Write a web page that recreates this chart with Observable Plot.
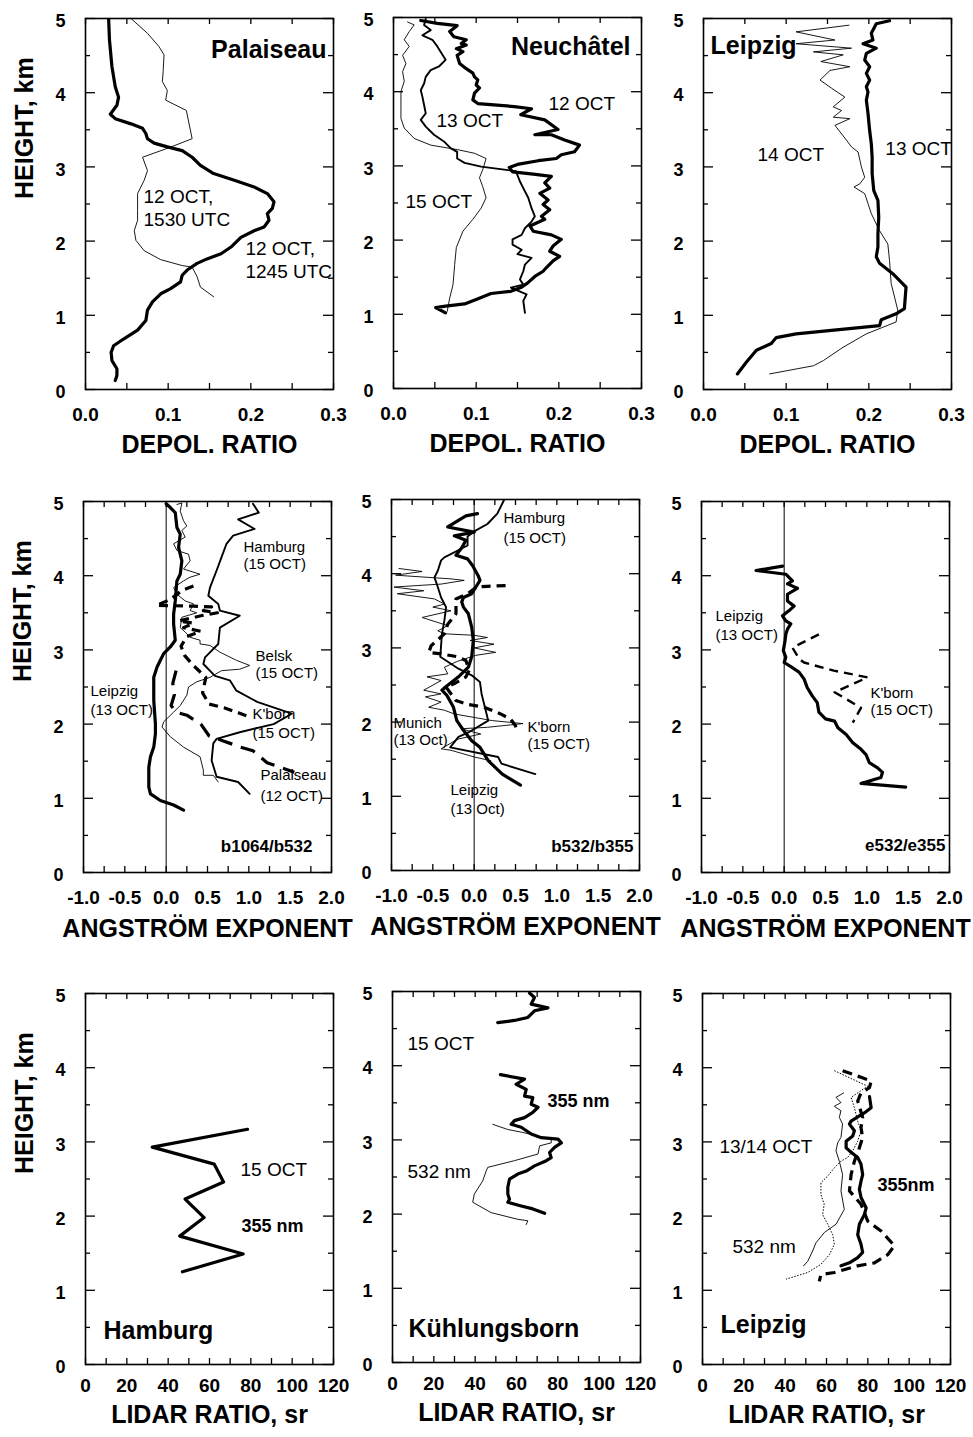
<!DOCTYPE html>
<html><head><meta charset="utf-8">
<script src="https://cdn.jsdelivr.net/npm/d3@7"></script>
<script src="https://cdn.jsdelivr.net/npm/@observablehq/plot@0.6"></script>
<style>
html,body{margin:0;padding:0;background:#fff;}
#chart{position:relative;width:973px;height:1437px;overflow:hidden;background:#fff;}
#chart svg{position:absolute;}
</style></head><body><div id="chart"></div>
<script>
// ---------- ticks / labels ----------
const heightTicks = [0, 0.5, 1, 1.5, 2, 2.5, 3, 3.5, 4, 4.5, 5];
const heightLabels = [0, 1, 2, 3, 4, 5];
const depolTicks = [0, 0.05, 0.1, 0.15, 0.2, 0.25, 0.3];
const depolLabels = [0, 0.1, 0.2, 0.3];
const angTicks = [-1, -0.75, -0.5, -0.25, 0, 0.25, 0.5, 0.75, 1, 1.25, 1.5, 1.75, 2];
const angLabels = [-1, -0.5, 0, 0.5, 1, 1.5, 2];
const lidarTicks = [0, 10, 20, 30, 40, 50, 60, 70, 80, 90, 100, 110, 120];
const lidarLabels = [0, 20, 40, 60, 80, 100, 120];

// ---------- Row 1: depolarization ratio [ratio, km] ----------
const palaiseau1245 = [[0.028,4.99],[0.029,4.71],[0.032,4.35],[0.036,4.08],[0.040,3.94],[0.038,3.83],[0.032,3.74],[0.030,3.71],[0.036,3.65],[0.055,3.58],[0.069,3.52],[0.073,3.45],[0.075,3.38],[0.083,3.32],[0.099,3.27],[0.117,3.22],[0.129,3.13],[0.139,3.02],[0.155,2.91],[0.180,2.82],[0.204,2.73],[0.220,2.64],[0.228,2.53],[0.226,2.44],[0.220,2.37],[0.222,2.28],[0.216,2.19],[0.204,2.14],[0.188,2.05],[0.176,1.92],[0.164,1.83],[0.147,1.76],[0.135,1.70],[0.123,1.61],[0.117,1.54],[0.115,1.45],[0.103,1.36],[0.091,1.29],[0.081,1.18],[0.075,1.07],[0.073,0.93],[0.063,0.80],[0.046,0.68],[0.034,0.59],[0.031,0.50],[0.032,0.39],[0.038,0.28],[0.038,0.19],[0.036,0.12]];
const palaiseau1530 = [[0.055,5.0],[0.075,4.80],[0.089,4.62],[0.095,4.51],[0.094,4.30],[0.093,4.15],[0.099,4.03],[0.097,3.90],[0.122,3.76],[0.129,3.38],[0.099,3.25],[0.069,3.13],[0.075,2.95],[0.071,2.82],[0.063,2.64],[0.063,2.41],[0.063,2.28],[0.059,2.14],[0.061,2.01],[0.071,1.87],[0.091,1.75],[0.117,1.67],[0.129,1.65],[0.135,1.52],[0.139,1.38],[0.155,1.25]];
const neuchatel12 = [[0.033,4.96],[0.053,4.92],[0.077,4.89],[0.068,4.81],[0.073,4.74],[0.088,4.70],[0.082,4.65],[0.088,4.63],[0.076,4.58],[0.084,4.54],[0.077,4.49],[0.080,4.38],[0.088,4.31],[0.096,4.25],[0.098,4.20],[0.102,4.16],[0.100,4.09],[0.104,4.05],[0.098,3.98],[0.096,3.89],[0.102,3.84],[0.146,3.80],[0.167,3.77],[0.154,3.69],[0.183,3.62],[0.199,3.49],[0.171,3.42],[0.191,3.42],[0.207,3.35],[0.225,3.28],[0.219,3.19],[0.203,3.15],[0.197,3.10],[0.175,3.07],[0.150,3.02],[0.140,2.98],[0.144,2.92],[0.169,2.89],[0.191,2.86],[0.183,2.77],[0.189,2.70],[0.177,2.63],[0.187,2.54],[0.181,2.48],[0.189,2.41],[0.179,2.32],[0.183,2.28],[0.173,2.23],[0.165,2.19],[0.169,2.12],[0.191,2.07],[0.203,2.01],[0.193,1.92],[0.189,1.85],[0.201,1.78],[0.193,1.72],[0.185,1.63],[0.181,1.58],[0.171,1.51],[0.162,1.42],[0.154,1.36],[0.142,1.31],[0.118,1.28],[0.100,1.20],[0.086,1.14],[0.063,1.11],[0.051,1.09],[0.063,1.02]];
const neuchatel13 = [[0.039,4.98],[0.037,4.90],[0.045,4.83],[0.035,4.76],[0.047,4.70],[0.053,4.61],[0.063,4.43],[0.055,4.34],[0.045,4.29],[0.039,4.20],[0.037,4.11],[0.033,4.02],[0.035,3.93],[0.037,3.82],[0.039,3.71],[0.033,3.62],[0.039,3.53],[0.049,3.42],[0.061,3.33],[0.069,3.24],[0.077,3.19],[0.077,3.10],[0.086,3.04],[0.106,2.99],[0.134,2.95],[0.148,2.93],[0.153,2.79],[0.157,2.70],[0.163,2.57],[0.167,2.43],[0.171,2.32],[0.167,2.25],[0.159,2.16],[0.155,2.07],[0.144,2.01],[0.144,1.94],[0.155,1.87],[0.150,1.81],[0.167,1.76],[0.159,1.67],[0.157,1.58],[0.153,1.47],[0.157,1.40],[0.142,1.36],[0.161,1.27],[0.157,1.18],[0.159,1.02]];
const neuchatel15 = [[0.017,4.94],[0.025,4.90],[0.019,4.81],[0.013,4.70],[0.019,4.61],[0.011,4.49],[0.015,4.38],[0.011,4.27],[0.013,4.14],[0.009,4.00],[0.009,3.78],[0.009,3.64],[0.013,3.51],[0.025,3.37],[0.045,3.28],[0.077,3.22],[0.098,3.17],[0.112,3.10],[0.108,2.95],[0.104,2.84],[0.108,2.72],[0.112,2.57],[0.106,2.43],[0.096,2.28],[0.084,2.12],[0.076,1.90],[0.074,1.67],[0.072,1.40],[0.068,1.22],[0.065,1.04]];
const leipzigDepol13 = [[0.225,4.97],[0.209,4.93],[0.203,4.80],[0.205,4.71],[0.193,4.66],[0.209,4.60],[0.197,4.53],[0.195,4.44],[0.201,4.35],[0.197,4.26],[0.201,4.17],[0.197,4.08],[0.199,4.01],[0.197,3.90],[0.199,3.72],[0.201,3.49],[0.203,3.31],[0.204,3.13],[0.204,2.91],[0.206,2.68],[0.211,2.55],[0.212,2.32],[0.211,2.10],[0.211,1.92],[0.209,1.79],[0.213,1.70],[0.229,1.56],[0.245,1.38],[0.243,1.09],[0.233,1.02],[0.215,0.94],[0.213,0.86],[0.112,0.75],[0.088,0.70],[0.082,0.62],[0.064,0.53],[0.052,0.37],[0.041,0.21]];
const leipzigDepol14 = [[0.176,4.91],[0.112,4.82],[0.159,4.71],[0.112,4.66],[0.179,4.60],[0.133,4.55],[0.169,4.51],[0.142,4.42],[0.177,4.35],[0.153,4.30],[0.141,4.17],[0.155,4.06],[0.171,3.94],[0.157,3.81],[0.167,3.76],[0.157,3.67],[0.177,3.65],[0.159,3.56],[0.173,3.36],[0.179,3.27],[0.187,3.20],[0.191,3.00],[0.195,2.86],[0.189,2.77],[0.182,2.73],[0.195,2.64],[0.203,2.37],[0.213,2.14],[0.223,1.96],[0.225,1.74],[0.227,1.43],[0.235,1.07],[0.233,0.91],[0.197,0.75],[0.169,0.57],[0.145,0.39],[0.133,0.32],[0.080,0.21]];

// ---------- Row 2: Angstrom exponent [exponent, km] ----------
const leipzigB1064 = [[0.0,4.97],[0.03,4.94],[0.11,4.85],[0.13,4.65],[0.17,4.56],[0.15,4.38],[0.19,4.20],[0.17,4.02],[0.13,3.93],[0.11,3.66],[0.09,3.48],[0.09,3.35],[0.11,3.13],[0.05,3.04],[-0.03,2.95],[-0.07,2.86],[-0.11,2.77],[-0.15,2.63],[-0.15,2.32],[-0.13,2.0],[-0.13,1.87],[-0.15,1.69],[-0.19,1.56],[-0.21,1.42],[-0.21,1.15],[-0.19,1.06],[-0.07,0.97],[0.09,0.91],[0.21,0.84]];
const hamburgB1064 = [[1.05,4.97],[1.12,4.85],[0.87,4.76],[1.07,4.63],[0.81,4.54],[0.73,4.43],[0.67,4.25],[0.61,4.07],[0.53,3.84],[0.51,3.73],[0.63,3.62],[0.65,3.53],[0.89,3.46],[0.65,3.30],[0.63,3.08],[0.47,2.90],[0.45,2.81],[0.59,2.65],[0.77,2.59],[0.85,2.45],[1.10,2.30],[1.52,2.14],[1.30,2.00],[0.89,1.89],[0.61,1.80],[0.57,1.74],[0.55,1.51],[0.61,1.29],[0.87,1.22],[1.01,1.06]];
const belskB1064 = [[0.13,4.96],[0.19,4.98],[0.17,4.87],[0.21,4.74],[0.25,4.67],[0.19,4.61],[0.23,4.52],[0.09,4.43],[0.13,4.34],[0.27,4.29],[0.29,4.20],[0.21,4.09],[0.41,4.02],[0.29,3.98],[0.21,3.93],[0.09,3.84],[0.13,3.75],[0.23,3.66],[0.33,3.62],[0.29,3.53],[0.37,3.50],[0.19,3.44],[0.17,3.30],[0.23,3.24],[0.29,3.17],[0.41,3.13],[0.41,3.08],[0.53,3.06],[0.65,2.97],[0.85,2.86],[1.01,2.79],[0.89,2.74],[0.67,2.72],[0.53,2.63],[0.37,2.57],[0.27,2.50],[0.25,2.39],[0.17,2.25],[0.09,2.16],[-0.03,2.03],[-0.05,1.96],[0.05,1.83],[0.21,1.69],[0.41,1.56],[0.45,1.38],[0.45,1.31],[0.57,1.31],[0.63,1.22]];
const kbornB1064 = [[0.33,3.86],[0.19,3.80],[0.05,3.68],[-0.12,3.60],[0.33,3.59],[0.55,3.58],[0.45,3.53],[0.62,3.50],[0.42,3.46],[0.15,3.39],[0.33,3.36],[0.21,3.30],[0.42,3.25],[0.25,3.18],[0.18,3.05],[0.22,2.93],[0.32,2.80],[0.48,2.63],[0.44,2.42],[0.52,2.27],[0.70,2.22],[0.88,2.15],[1.02,2.09]];
const palaiseauB1064 = [[0.12,2.72],[0.08,2.55],[0.10,2.40],[0.06,2.25],[0.12,2.16],[0.25,2.12],[0.42,2.00],[0.52,1.84],[0.70,1.77],[0.90,1.69],[1.05,1.64],[1.22,1.48],[1.38,1.42],[1.55,1.35]];
const leipzigB532 = [[0.04,4.81],[-0.10,4.78],[-0.32,4.63],[0.0,4.56],[-0.24,4.51],[-0.10,4.45],[-0.15,4.35],[-0.22,4.25],[-0.08,4.20],[-0.02,4.11],[0.05,3.97],[0.07,3.91],[-0.03,3.73],[-0.13,3.68],[-0.15,3.62],[-0.13,3.55],[-0.07,3.46],[-0.03,3.28],[-0.01,3.10],[-0.03,2.88],[-0.07,2.74],[-0.19,2.61],[-0.35,2.47],[-0.39,2.43],[-0.33,2.36],[-0.25,2.20],[-0.21,2.02],[-0.13,1.89],[-0.03,1.75],[0.07,1.66],[0.17,1.48],[0.34,1.30],[0.56,1.15]];
const hamburgB532 = [[0.36,4.99],[0.28,4.81],[0.16,4.67],[0.0,4.57],[-0.08,4.50],[-0.08,4.38],[-0.36,4.22],[-0.40,4.18],[-0.44,4.04],[-0.48,3.95],[-0.44,3.82],[-0.40,3.68],[-0.34,3.55],[-0.36,3.37],[-0.39,3.19],[-0.41,2.88],[-0.19,2.72],[-0.03,2.63],[0.07,2.54],[0.09,2.38],[0.13,2.20],[0.17,2.02],[-0.07,1.86],[-0.19,1.80],[-0.29,1.66],[0.29,1.53],[0.33,1.44],[0.74,1.30]];
const munichB532 = [[-0.91,4.07],[-0.63,4.03],[-0.95,3.98],[-0.28,3.93],[-0.12,3.91],[-0.40,3.86],[-0.69,3.84],[-0.97,3.82],[-0.61,3.77],[-0.93,3.73],[-0.48,3.66],[-0.36,3.59],[-0.50,3.55],[-0.28,3.50],[-0.63,3.41],[-0.46,3.35],[-0.32,3.30],[-0.44,3.23],[-0.36,3.19],[0.0,3.17],[0.16,3.14],[-0.05,3.10],[0.24,3.05],[0.0,3.0],[0.26,2.94],[0.02,2.90],[-0.20,2.82],[-0.36,2.74],[-0.32,2.65],[-0.57,2.61],[-0.40,2.56],[-0.61,2.43],[-0.40,2.38],[-0.59,2.34],[-0.40,2.27],[-0.55,2.20],[-0.36,2.16],[-0.24,2.11],[0.22,2.02],[0.59,1.98],[0.16,1.93],[-0.16,1.91],[0.08,1.84],[-0.20,1.77],[-0.40,1.64],[-0.28,1.62],[0.0,1.53],[0.20,1.48]];
const kbornB532 = [[0.38,3.84],[0.16,3.83],[0.03,3.82],[-0.08,3.73],[-0.22,3.66],[-0.22,3.46],[-0.32,3.32],[-0.36,3.19],[-0.52,3.03],[-0.55,2.94],[-0.40,2.92],[-0.20,2.88],[-0.10,2.83],[-0.06,2.70],[-0.10,2.61],[-0.24,2.52],[-0.34,2.47],[-0.22,2.29],[-0.08,2.24],[0.12,2.20],[0.32,2.11],[0.44,2.04],[0.50,1.95],[0.52,1.86]];
const leipzigE532 = [[-0.02,4.13],[-0.34,4.07],[0.02,4.02],[0.10,3.93],[0.04,3.89],[0.16,3.83],[0.04,3.75],[0.04,3.66],[0.12,3.59],[0.06,3.53],[-0.02,3.46],[0.02,3.39],[0.08,3.35],[0.04,3.28],[0.02,3.21],[0.01,3.12],[-0.01,2.99],[0.02,2.90],[0.0,2.83],[0.10,2.76],[0.18,2.70],[0.24,2.61],[0.28,2.49],[0.34,2.38],[0.40,2.29],[0.42,2.16],[0.50,2.07],[0.61,2.04],[0.65,1.95],[0.75,1.86],[0.83,1.75],[0.93,1.66],[0.99,1.59],[1.03,1.48],[1.13,1.41],[1.19,1.35],[1.17,1.28],[0.93,1.20],[1.47,1.15]];
const kbornE532 = [[0.42,3.21],[0.10,3.03],[0.18,2.88],[0.24,2.83],[0.60,2.72],[1.01,2.63],[0.61,2.43],[0.93,2.22],[0.83,2.02]];

// ---------- Row 3: lidar ratio [sr, km] ----------
const hamburgLR355 = [[78.4,3.17],[32.3,2.93],[62.3,2.70],[66.8,2.46],[48.2,2.23],[57.4,1.98],[45.6,1.73],[76.3,1.49],[46.9,1.25]];
const kbornLR355Upper = [[66.3,4.98],[68.7,4.92],[67.1,4.83],[75.2,4.78],[68.7,4.74],[65.5,4.65],[59.0,4.61],[50.9,4.58]];
const kbornLR355Lower = [[52.2,3.88],[63.9,3.82],[59.8,3.75],[64.7,3.68],[63.9,3.59],[67.9,3.57],[67.1,3.48],[70.4,3.44],[67.9,3.37],[63.9,3.30],[59.0,3.26],[57.4,3.21],[62.3,3.17],[67.1,3.08],[72.0,3.03],[80.1,3.01],[81.7,2.96],[78.4,2.90],[76.0,2.83],[76.8,2.76],[74.4,2.72],[68.7,2.65],[64.7,2.58],[60.6,2.54],[56.6,2.47],[55.8,2.36],[55.8,2.27],[56.6,2.20],[55.8,2.16],[62.3,2.11],[67.9,2.07],[73.6,2.01]];
const kbornLR532 = [[48.5,3.21],[55.8,3.14],[63.1,3.10],[70.4,3.05],[76.8,3.01],[76.8,2.96],[71.2,2.92],[70.4,2.81],[59.0,2.72],[46.1,2.63],[45.3,2.58],[43.7,2.45],[39.6,2.27],[38.8,2.16],[47.7,2.02],[60.6,1.93],[65.5,1.91],[64.7,1.86]];
const leipzigLR355a = [[80.8,3.61],[81.6,3.46],[78.3,3.39],[75.9,3.35],[71.9,3.28],[71.1,3.24],[73.5,3.15],[72.7,3.08],[69.5,3.01],[69.5,2.92],[71.9,2.86],[75.1,2.79],[76.7,2.70],[77.5,2.56],[76.7,2.47],[75.9,2.36],[76.7,2.25],[79.2,2.11],[78.3,2.02],[75.9,1.89],[75.1,1.75],[76.7,1.62],[77.5,1.51],[75.1,1.44],[71.1,1.37],[67.0,1.33]];
const leipzigLR355b = [[67.8,3.96],[76.7,3.87],[81.6,3.82],[80.8,3.73],[76.7,3.66],[75.1,3.55],[77.5,3.33],[76.7,3.19],[77.5,3.06],[75.9,2.92],[73.5,2.74],[71.9,2.56],[71.1,2.34],[76.7,2.16],[80.0,1.93],[86.4,1.80],[92.9,1.60],[89.6,1.48],[83.2,1.37],[75.1,1.33],[63.8,1.24],[57.3,1.21],[56.5,1.12]];
const leipzigLR532a = [[68.3,3.66],[64.6,3.60],[67.0,3.53],[63.8,3.48],[67.0,3.42],[66.2,3.33],[67.8,3.24],[67.0,3.06],[65.4,2.99],[64.6,2.88],[66.2,2.74],[67.8,2.56],[67.0,2.34],[68.6,2.09],[64.6,1.89],[59.0,1.78],[54.9,1.64],[53.3,1.53],[50.9,1.39],[48.9,1.33]];
const leipzigLR532b = [[63.8,3.96],[79.9,3.75],[71.9,3.60],[73.5,3.46],[75.1,3.28],[76.7,3.15],[75.1,3.01],[72.7,2.88],[70.2,2.79],[67.0,2.74],[63.8,2.65],[60.6,2.54],[57.3,2.45],[57.3,2.29],[58.9,2.16],[58.1,2.02],[60.6,1.89],[63.0,1.75],[63.8,1.62],[61.4,1.48],[57.3,1.35],[50.9,1.24],[40.4,1.15]];

// ---------- drawing ----------
const FONT = "'Liberation Sans', Arial, Helvetica, sans-serif";
const W = 248, H = 371, ML = 90, MR = 30, MT = 20, MB = 80;
const THICK = 3.2, MED = 1.9, THIN = 0.9;
const chart = document.getElementById("chart");

function panel(cfg) {
  const [x0, x1] = cfg.xDomain;
  const xPx = (x1 - x0) / W, yPx = 5 / H;
  const marks = [];
  if (cfg.zeroLine) marks.push(Plot.ruleX([0], {stroke: "black", strokeWidth: 1}));
  // inward tick marks on all four sides
  const ylen = d => (Number.isInteger(d) ? 10 : 5) * xPx;
  marks.push(Plot.ruleY(heightTicks, {y: d => d, x1: x0, x2: d => x0 + ylen(d), stroke: "black", strokeWidth: 1.3}));
  marks.push(Plot.ruleY(heightTicks, {y: d => d, x1: d => x1 - ylen(d), x2: x1, stroke: "black", strokeWidth: 1.3}));
  marks.push(Plot.ruleX(cfg.xTicks, {x: d => d, y1: 0, y2: 6 * yPx, stroke: "black", strokeWidth: 1.3}));
  marks.push(Plot.ruleX(cfg.xTicks, {x: d => d, y1: 5 - 6 * yPx, y2: 5, stroke: "black", strokeWidth: 1.3}));
  marks.push(Plot.frame({stroke: "black", strokeWidth: 1.6}));
  for (const s of cfg.series) {
    marks.push(Plot.line(s.data, {x: d => d[0], y: d => d[1], stroke: "black", strokeWidth: s.w,
      strokeDasharray: s.dash, strokeLinejoin: "round", strokeLinecap: s.dash ? "butt" : "round"}));
  }
  for (const l of cfg.labels) {
    marks.push(Plot.text([l], {x: "x", y: "y", text: "t", textAnchor: l.anchor || "start", lineAnchor: "bottom",
      fontSize: l.size, fontWeight: l.bold ? "bold" : "normal", fill: "black"}));
  }
  marks.push(Plot.axisX({ticks: cfg.xLabels, anchor: "bottom", tickSize: 0, tickPadding: cfg.xPad,
    tickFormat: cfg.xFmt, fontSize: 19, fontWeight: "bold", label: null}));
  marks.push(Plot.axisY({ticks: heightLabels, anchor: "left", tickSize: 0, tickPadding: 20,
    tickFormat: d => String(d), fontSize: 18, fontWeight: "bold", dy: 3, label: null}));
  marks.push(Plot.text([cfg.xTitle], {frameAnchor: "bottom", text: d => d, lineAnchor: "bottom",
    dy: cfg.titleDy, fontSize: 25, fontWeight: "bold"}));
  if (cfg.yTitle) marks.push(Plot.text(["HEIGHT, km"], {frameAnchor: "left", text: d => d, rotate: -90,
    dx: -61, dy: -5, fontSize: 25, fontWeight: "bold"}));
  const svg = Plot.plot({
    width: ML + W + MR, height: MT + H + MB,
    marginLeft: ML, marginRight: MR, marginTop: MT, marginBottom: MB,
    x: {domain: cfg.xDomain}, y: {domain: [0, 5]},
    style: {fontFamily: FONT, fontSize: "18px", fontWeight: "bold", background: "none", overflow: "visible", color: "black"},
    marks
  });
  svg.style.left = (cfg.left - ML) + "px";
  svg.style.top = (cfg.top - MT) + "px";
  chart.appendChild(svg);
}

const depol = {xDomain: [0, 0.3], xTicks: depolTicks, xLabels: depolLabels, xFmt: d => d.toFixed(1), xTitle: "DEPOL. RATIO", xPad: 18, titleDy: 63};
const ang = {xDomain: [-1, 2], xTicks: angTicks, xLabels: angLabels, xFmt: d => d.toFixed(1), xTitle: "ANGSTRÖM EXPONENT", xPad: 18, titleDy: 64, zeroLine: true};
const lidar = {xDomain: [0, 120], xTicks: lidarTicks, xLabels: lidarLabels, xFmt: d => String(d), xTitle: "LIDAR RATIO, sr", xPad: 14, titleDy: 58};

const R = 19, S = 15, B = 25;
panel({...depol, left: 85, top: 18, yTitle: true,
  series: [{data: palaiseau1530, w: THIN}, {data: palaiseau1245, w: THICK}],
  labels: [
    {x: 0.2915, y: 4.461, t: "Palaiseau", size: B, bold: true, anchor: "end"},
    {x: 0.0702, y: 2.520, t: "12 OCT,", size: R}, {x: 0.0702, y: 2.210, t: "1530 UTC", size: R},
    {x: 0.1935, y: 1.806, t: "12 OCT,", size: R}, {x: 0.1935, y: 1.509, t: "1245 UTC", size: R}]});
panel({...depol, left: 393, top: 17,
  series: [{data: neuchatel15, w: THIN}, {data: neuchatel13, w: MED}, {data: neuchatel12, w: THICK}],
  labels: [
    {x: 0.2867, y: 4.488, t: "Neuchâtel", size: B, bold: true, anchor: "end"},
    {x: 0.1875, y: 3.747, t: "12 OCT", size: R}, {x: 0.052, y: 3.518, t: "13 OCT", size: R},
    {x: 0.0145, y: 2.439, t: "15 OCT", size: R}]});
panel({...depol, left: 703, top: 18,
  series: [{data: leipzigDepol14, w: THIN}, {data: leipzigDepol13, w: THICK}],
  labels: [
    {x: 0.0085, y: 4.528, t: "Leipzig", size: B, bold: true},
    {x: 0.0653, y: 3.086, t: "14 OCT", size: R}, {x: 0.220, y: 3.154, t: "13 OCT", size: R}]});

panel({...ang, left: 83, top: 501, yTitle: true,
  series: [{data: belskB1064, w: THIN}, {data: hamburgB1064, w: MED}, {data: leipzigB1064, w: THICK},
    {data: kbornB1064, w: THICK, dash: "9,6"}, {data: palaiseauB1064, w: THICK, dash: "15,9"}],
  labels: [
    {x: 0.935, y: 4.313, t: "Hamburg", size: S}, {x: 0.935, y: 4.084, t: "(15 OCT)", size: S},
    {x: 1.081, y: 2.857, t: "Belsk", size: S}, {x: 1.081, y: 2.615, t: "(15 OCT)", size: S},
    {x: -0.915, y: 2.372, t: "Leipzig", size: S}, {x: -0.915, y: 2.116, t: "(13 OCT)", size: S},
    {x: 1.044, y: 2.075, t: "K'born", size: S}, {x: 1.044, y: 1.819, t: "(15 OCT)", size: S},
    {x: 1.141, y: 1.240, t: "Palaiseau", size: S}, {x: 1.141, y: 0.970, t: "(12 OCT)", size: S},
    {x: 1.77, y: 0.270, t: "b1064/b532", size: 17, bold: true, anchor: "end"}]});
panel({...ang, left: 391, top: 499,
  series: [{data: munichB532, w: THIN}, {data: hamburgB532, w: MED}, {data: leipzigB532, w: THICK},
    {data: kbornB532, w: THICK, dash: "9,6"}],
  labels: [
    {x: 0.355, y: 4.677, t: "Hamburg", size: S}, {x: 0.355, y: 4.420, t: "(15 OCT)", size: S},
    {x: -0.976, y: 1.927, t: "Munich", size: S}, {x: -0.976, y: 1.685, t: "(13 Oct)", size: S},
    {x: 0.645, y: 1.873, t: "K'born", size: S}, {x: 0.645, y: 1.644, t: "(15 OCT)", size: S},
    {x: -0.286, y: 1.011, t: "Leipzig", size: S}, {x: -0.286, y: 0.768, t: "(13 Oct)", size: S},
    {x: 1.927, y: 0.243, t: "b532/b355", size: 17, bold: true, anchor: "end"}]});
panel({...ang, left: 701, top: 501,
  series: [{data: leipzigE532, w: THICK}, {data: kbornE532, w: 2.4, dash: "9,6"}],
  labels: [
    {x: -0.831, y: 3.396, t: "Leipzig", size: S}, {x: -0.831, y: 3.127, t: "(13 OCT)", size: S},
    {x: 1.044, y: 2.358, t: "K'born", size: S}, {x: 1.044, y: 2.116, t: "(15 OCT)", size: S},
    {x: 1.951, y: 0.296, t: "e532/e355", size: 17, bold: true, anchor: "end"}]});

panel({...lidar, left: 85, top: 993, yTitle: true,
  series: [{data: hamburgLR355, w: THICK}],
  labels: [
    {x: 75.0, y: 2.547, t: "15 OCT", size: R}, {x: 75.5, y: 1.779, t: "355 nm", size: 18, bold: true},
    {x: 8.7, y: 0.350, t: "Hamburg", size: B, bold: true}]});
panel({...lidar, left: 392, top: 991,
  series: [{data: kbornLR532, w: THIN}, {data: kbornLR355Upper, w: THICK}, {data: kbornLR355Lower, w: THICK}],
  labels: [
    {x: 7.26, y: 4.205, t: "15 OCT", size: R}, {x: 75.0, y: 3.437, t: "355 nm", size: 18, bold: true},
    {x: 7.26, y: 2.493, t: "532 nm", size: R}, {x: 7.74, y: 0.337, t: "Kühlungsborn", size: B, bold: true}]});
panel({...lidar, left: 702, top: 993,
  series: [{data: leipzigLR532b, w: 1, dash: "1.5,1.5"}, {data: leipzigLR532a, w: THIN},
    {data: leipzigLR355b, w: THICK, dash: "10,6"}, {data: leipzigLR355a, w: THICK}],
  labels: [
    {x: 8.2, y: 2.844, t: "13/14 OCT", size: R}, {x: 84.7, y: 2.345, t: "355nm", size: 18, bold: true},
    {x: 14.5, y: 1.509, t: "532 nm", size: R}, {x: 8.7, y: 0.431, t: "Leipzig", size: B, bold: true}]});
</script></body></html>
